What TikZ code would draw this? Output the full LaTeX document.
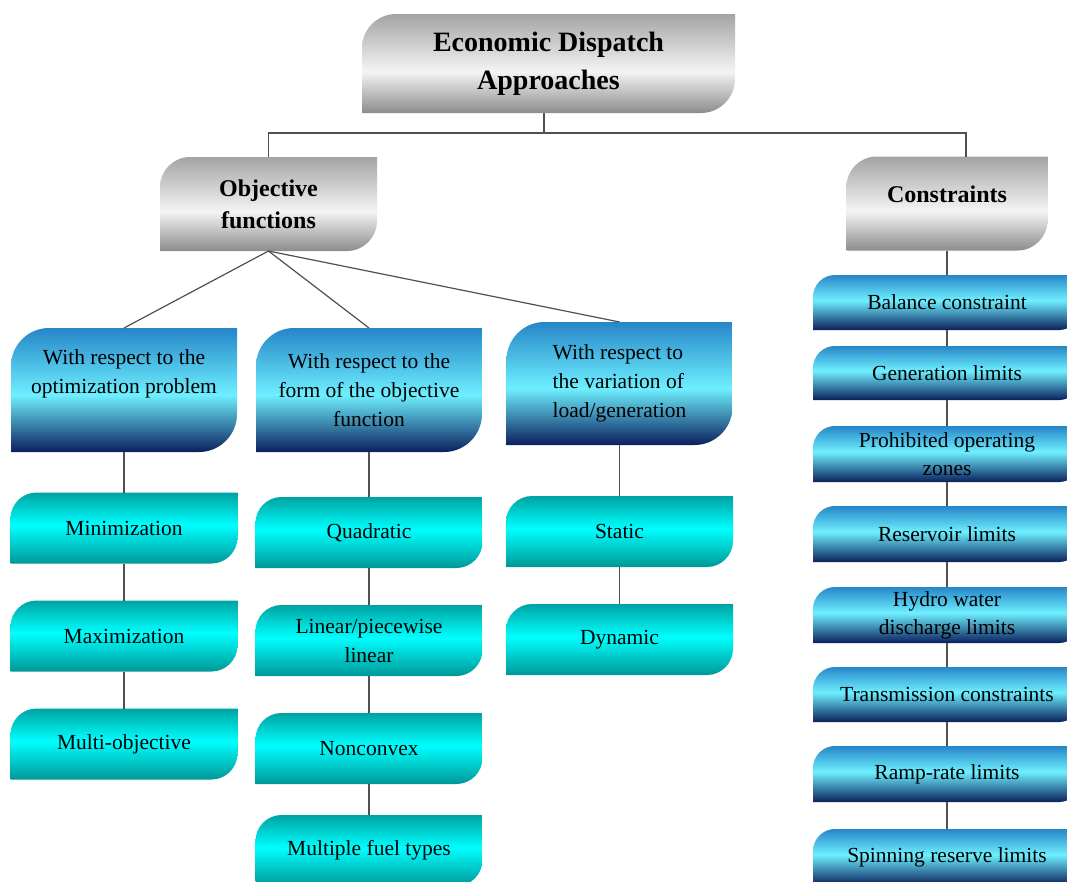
\documentclass[tikz,border=0pt]{standalone}
\usepackage{fontspec}
\setmainfont{Liberation Serif}
\usetikzlibrary{calc}

% colours of the three box families
\definecolor{grT}{HTML}{A4A4A4}
\definecolor{grM}{HTML}{F4F4F4}
\definecolor{grB}{HTML}{8C8C8C}
\definecolor{blT}{HTML}{2686C8}
\definecolor{blM}{HTML}{6EEFFF}
\definecolor{blB}{HTML}{0A1F5C}
\definecolor{tlT}{HTML}{00A3A3}
\definecolor{tlM}{HTML}{00FFFF}
\definecolor{tlB}{HTML}{009797}
\definecolor{linec}{HTML}{505050}

% vertical gradients (path is mapped onto 25bp..75bp, bottom to top)
\pgfdeclareverticalshading{greysh}{100bp}{color(0bp)=(grB); color(25bp)=(grB); color(46bp)=(grM); color(75bp)=(grT); color(100bp)=(grT)}
\pgfdeclareverticalshading{bluesh}{100bp}{color(0bp)=(blB); color(25bp)=(blB); color(48bp)=(blM); color(75bp)=(blT); color(100bp)=(blT)}
\pgfdeclareverticalshading{limsh}{100bp}{color(0bp)=(blB); color(25bp)=(blB); color(52bp)=(blM); color(75bp)=(blT); color(100bp)=(blT)}
\pgfdeclareverticalshading{tealsh}{100bp}{color(0bp)=(tlB); color(25bp)=(tlB); color(52bp)=(tlM); color(75bp)=(tlT); color(100bp)=(tlT)}

% rectangle with rounded top-left and bottom-right corners
\newcommand\diagshape[2]{%
  \shade[shading=#1]
    ([xshift=#2]path picture bounding box.north west)
    -- (path picture bounding box.north east)
    -- ([yshift=#2]path picture bounding box.south east)
    .. controls ([yshift=0.45*#2]path picture bounding box.south east)
           and ([xshift=-0.45*#2]path picture bounding box.south east)
    .. ([xshift=-#2]path picture bounding box.south east)
    -- (path picture bounding box.south west)
    -- ([yshift=-#2]path picture bounding box.north west)
    .. controls ([yshift=-0.45*#2]path picture bounding box.north west)
           and ([xshift=0.45*#2]path picture bounding box.north west)
    .. ([xshift=#2]path picture bounding box.north west)
    -- cycle;}

\tikzset{
  every node/.style={inner sep=0pt, outer sep=0pt},
  shapebox/.style 2 args={path picture={\diagshape{#1}{#2}}},
  rootbox/.style={shapebox={greysh}{34pt}, minimum width=373pt, minimum height=99pt,
    font=\fontsize{28}{38}\selectfont\bfseries, align=center},
  headbox/.style={shapebox={greysh}{30pt}, minimum height=94pt,
    font=\fontsize{24}{32}\selectfont\bfseries, align=center},
  aspectbox/.style={shapebox={bluesh}{38pt}, minimum width=226pt, minimum height=124pt,
    font=\fontsize{21.5}{29}\selectfont, align=center},
  optbox/.style={shapebox={tealsh}{26pt}, minimum width=227pt, minimum height=71pt,
    font=\fontsize{21.5}{29}\selectfont, align=center},
  limbox/.style={shapebox={limsh}{22pt}, minimum width=268pt, minimum height=56pt,
    font=\fontsize{21.5}{28}\selectfont, align=center},
  link/.style={draw=linec, line width=1.2pt},
}

\begin{document}
\begin{tikzpicture}[x=1pt, y=-1pt]
  \useasboundingbox (0,0) rectangle (1067,881);
  \fill[white] (0,0) rectangle (1067,881);
  \clip (0,0) rectangle (1067,881);

  % top levels
  \node[rootbox] (root) at (548.5,63.5) {Economic Dispatch\\Approaches};
  \node[headbox, minimum width=217pt] (obj) at (268.5,204) {Objective\\functions};
  \node[headbox, minimum width=201pt, text depth=18pt] (con) at (947,203.5) {Constraints};

  % kinds of objective function
  \node[aspectbox, text depth=37pt] (a1) at (124,390) {With respect to the\\optimization problem};
  \node[aspectbox] (a2) at (369,390) {With respect to the\\form of the objective\\function};
  \node[aspectbox, minimum height=123pt, align=left] (a3) at (619.5,383.5) {With respect to\\the variation of\\load/generation};

  % first column
  \node[optbox] (m1) at (124,528) {Minimization};
  \node[optbox] (m2) at (124,636) {Maximization};
  \node[optbox] (m3) at (124,744) {Multi-objective};

  % second column
  \node[optbox] (f1) at (369,532.5) {Quadratic};
  \node[optbox] (f2) at (369,640.5) {Linear/piecewise\\linear};
  \node[optbox] (f3) at (369,748.5) {Nonconvex};
  \node[optbox] (f4) at (369,850.5) {Multiple fuel types};

  % third column
  \node[optbox] (v1) at (619.5,531.5) {Static};
  \node[optbox] (v2) at (619.5,639.5) {Dynamic};

  % constraints column
  \node[limbox, minimum height=55pt] (c1) at (947,302.5) {Balance constraint};
  \node[limbox, minimum height=54pt] (c2) at (947,373) {Generation limits};
  \node[limbox] (c3) at (947,454) {Prohibited operating\\zones};
  \node[limbox] (c4) at (947,534) {Reservoir limits};
  \node[limbox] (c5) at (947,615) {Hydro water\\discharge limits};
  \node[limbox, minimum height=55pt] (c6) at (947,694.5) {Transmission constraints};
  \node[limbox] (c7) at (947,774) {Ramp-rate limits};
  \node[limbox] (c8) at (947,857) {Spinning reserve limits};

  % connectors
  \coordinate (stem) at ([xshift=-4.5pt]root.south);
  \draw[link] (stem) -- ++(0,20) -| (obj.north);
  \draw[link] (stem) -- ++(0,20) -| ([xshift=19pt]con.north);
  \draw[link] (obj.south) -- (a1.north);
  \draw[link] (obj.south) -- (a2.north);
  \draw[link] (obj.south) -- (a3.north);

  \draw[link] (a1.south) -- (m1.north);
  \draw[link] (m1.south) -- (m2.north);
  \draw[link] (m2.south) -- (m3.north);

  \draw[link] (a2.south) -- (f1.north);
  \draw[link] (f1.south) -- (f2.north);
  \draw[link] (f2.south) -- (f3.north);
  \draw[link] (f3.south) -- (f4.north);

  \draw[link] (a3.south) -- (v1.north);
  \draw[link] (v1.south) -- (v2.north);

  \draw[link] (con.south) -- (c1.north);
  \draw[link] (c1.south) -- (c2.north);
  \draw[link] (c2.south) -- (c3.north);
  \draw[link] (c3.south) -- (c4.north);
  \draw[link] (c4.south) -- (c5.north);
  \draw[link] (c5.south) -- (c6.north);
  \draw[link] (c6.south) -- (c7.north);
  \draw[link] (c7.south) -- (c8.north);
\end{tikzpicture}
\end{document}
